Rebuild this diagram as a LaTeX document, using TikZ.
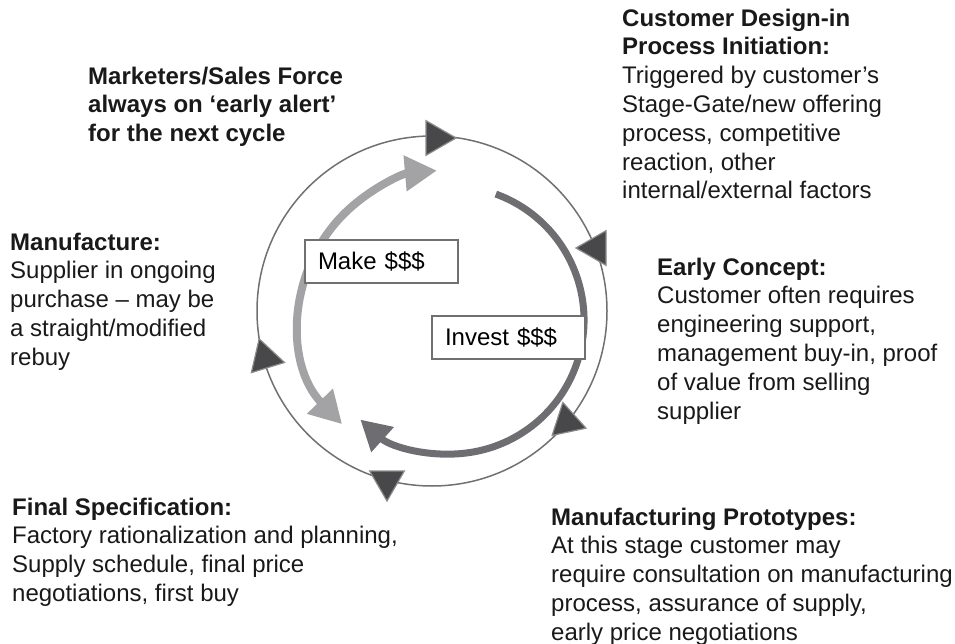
\documentclass[tikz,border=0pt]{standalone}
\usepackage{fontspec}
\setmainfont{Liberation Sans}
\usepackage{tikz}
\usetikzlibrary{shapes,arrows.meta,positioning}
\definecolor{ringgray}{RGB}{112, 112, 112}
\definecolor{markgray}{RGB}{72, 72, 74}
\definecolor{makegray}{RGB}{163, 163, 165}
\definecolor{investgray}{RGB}{110, 110, 114}
\tikzstyle{stagetext} = [anchor=north west, inner sep=0pt, align=left, text=black!90, font=\fontsize{24}{28.8}\selectfont]
\tikzstyle{tri} = [regular polygon, regular polygon sides=3, minimum size=40pt, inner sep=0pt, fill=markgray, draw=black!45, line width=1.2pt]
\tikzstyle{cash} = [rectangle, draw=ringgray, line width=1.5pt, fill=white, minimum width=153pt, minimum height=43pt, text width=127pt, inner xsep=13pt, inner ysep=0pt, align=left, font=\fontsize{24}{28.8}\selectfont]
\tikzstyle{flow} = [line width=8pt]

\begin{document}
\begin{tikzpicture}[x=1pt, y=1pt]
\useasboundingbox (0,0) rectangle (955,-644);

% outer cycle with stage markers =============================
\coordinate (o) at (432,-311);
\draw[ringgray, line width=1.5pt] (o) circle[radius=175];

\node[tri, shape border rotate=-90] (m1) at (436,-138) {};
\node[tri, shape border rotate=90] (m2) at (596,-248) {};
\node[tri, shape border rotate=12] (m3) at (567,-422) {};
\node[tri, shape border rotate=180] (m4) at (387,-481) {};
\node[tri, shape border rotate=17] (m5) at (265,-358) {};

% inner money flows
\coordinate (c) at (450,-320);
\draw[flow, makegray, {Triangle[length=32pt,width=34pt]}-{Triangle[length=32pt,width=34pt]}]
  ([shift={(224:150)}]c) arc[start angle=224, end angle=95, radius=150];
\draw[flow, investgray, line width=7pt, -{Triangle[length=30pt,width=32pt]}]
  ([shift={(70:134)}]c) arc[start angle=70, end angle=-132, radius=134];

\node[cash] (make) at (381.5,-261.5) {Make \$\$\$};
\node[cash] (invest) at (508.5,-337.5) {Invest \$\$\$};

% stage descriptions
\node[stagetext] (alert) at (88,-66.5) {\textbf{Marketers/Sales Force}\\\textbf{always on ‘early alert’}\\\textbf{for the next cycle}};
\node[stagetext] (designin) at (622,-8.5) {\textbf{Customer Design-in}\\\textbf{Process Initiation:}\\Triggered by customer’s\\Stage-Gate/new offering\\process, competitive\\reaction, other\\internal/external factors};
\node[stagetext] (manufacture) at (10,-232.5) {\textbf{Manufacture:}\\Supplier in ongoing\\purchase – may be\\a straight/modified\\rebuy};
\node[stagetext] (concept) at (657,-257.5) {\textbf{Early Concept:}\\Customer often requires\\engineering support,\\management buy-in, proof\\of value from selling\\supplier};
\node[stagetext] (finalspec) at (12,-497.5) {\textbf{Final Specification:}\\Factory rationalization and planning,\\Supply schedule, final price\\negotiations, first buy};
\node[stagetext] (prototypes) at (551,-507.5) {\textbf{Manufacturing Prototypes:}\\At this stage customer may\\require consultation on manufacturing\\process, assurance of supply,\\early price negotiations};

\end{tikzpicture}
\end{document}
